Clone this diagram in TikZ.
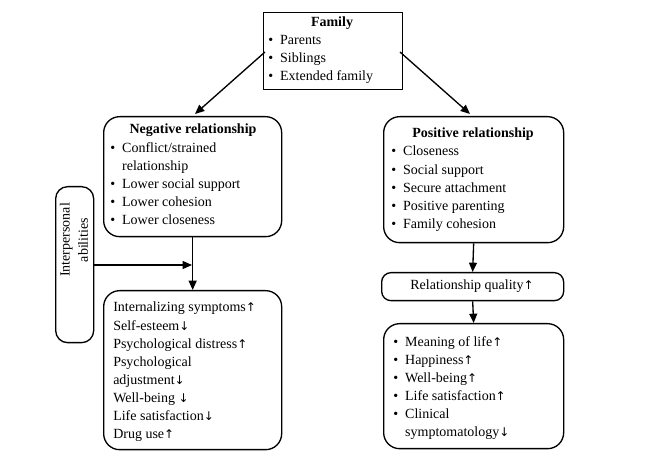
\documentclass[tikz,border=0pt]{standalone}
\usepackage{fontspec}
\setmainfont{Liberation Serif}
\newfontfamily\dv{DejaVu Sans}
\newcommand{\uarr}{{\dv\small↑}}
\newcommand{\darr}{{\dv\small↓}}
\newcommand{\bu}{•\hspace{0.5em}}
\newcommand{\bp}{\phantom{•}\hspace{0.5em}}
\usetikzlibrary{arrows.meta}
\begin{document}
\begin{tikzpicture}[x=0.75pt,y=-0.75pt,
  box/.style={draw,line width=1pt,rounded corners=12pt,inner sep=0pt},
  txt/.style={align=left,anchor=north west,inner sep=0pt,font=\fontsize{10.5}{13.6}\selectfont},
  arr/.style={-{Triangle[length=7pt,width=6pt]},line width=1pt}]
\useasboundingbox (0,0) rectangle (651,463);
\node[draw,line width=1pt,minimum width=104.25pt,minimum height=57.75pt,anchor=north west,inner sep=0pt] (fam) at (263,12) {};
\node[txt,anchor=north] (famt) at (332,17) {\textbf{Family}};
\node[txt] (famb) at (268,35) {\bu Parents\\\bu Siblings\\\bu Extended family};
\node[box,minimum width=133.5pt,minimum height=90pt,anchor=north west] (neg) at (103,116) {};
\node[txt,anchor=north] (negt) at (193,124) {\textbf{Negative relationship}};
\node[txt] (negb) at (110,142) {\bu Conflict/strained\\\bp relationship\\\bu Lower social support\\\bu Lower cohesion\\\bu Lower closeness};
\node[box,minimum width=135pt,minimum height=94.5pt,anchor=north west] (pos) at (383,116) {};
\node[txt,anchor=north] (post) at (473,128) {\textbf{Positive relationship}};
\node[txt] (posb) at (391,146) {\bu Closeness\\\bu Social support\\\bu Secure attachment\\\bu Positive parenting\\\bu Family cohesion};
\node[box,rounded corners=9pt,minimum width=28.5pt,minimum height=117pt,anchor=north west] (ip) at (55,186) {};
\node[txt,anchor=center,rotate=90,align=center] (ipt) at (74,240) {Interpersonal\\abilities};
\node[box,minimum width=133.5pt,minimum height=119.25pt,anchor=north west] (int) at (103,290) {};
\node[txt] (intb) at (113,302) {Internalizing symptoms\uarr\\Self-esteem\darr\\Psychological distress\uarr\\Psychological\\adjustment\darr\\Well-being \darr\\Life satisfaction\darr\\Drug use\uarr};
\node[box,rounded corners=7pt,minimum width=136.5pt,minimum height=21pt,anchor=north west] (rq) at (381,272) {};
\node[txt,anchor=center] (rqt) at (472,286) {Relationship quality\uarr};
\node[box,minimum width=135pt,minimum height=93.75pt,anchor=north west] (mol) at (383,323) {};
\node[txt] (molb) at (393,336) {\bu Meaning of life\uarr\\\bu Happiness\uarr\\\bu Well-being\uarr\\\bu Life satisfaction\uarr\\\bu Clinical\\\bp symptomatology\darr};
\coordinate (fl) at (265,52);
\coordinate (fr) at (400,52);
\draw[arr] (fl) -- (195,114);
\draw[arr] (fr) -- (470,114);
\draw[arr] (neg.south) -- (int.north);
\coordinate (j) at (192,265);
\draw[arr] (ip.east |- j) -- (j);
\draw[arr] (pos.south) -- (rq.north);
\draw[arr] (rq.south) -- (mol.north);
\end{tikzpicture}
\end{document}
